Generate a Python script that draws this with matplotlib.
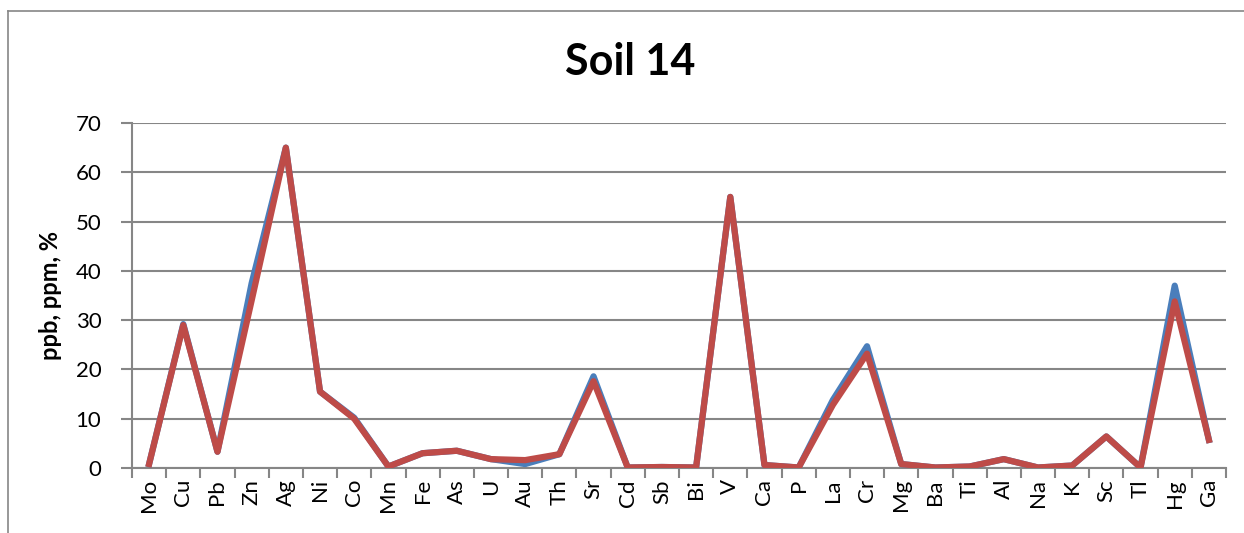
import numpy as np
import matplotlib.pyplot as plt
from matplotlib.lines import Line2D

# elements in the order they appear on the x axis
elements = ['Mo', 'Cu', 'Pb', 'Zn', 'Ag', 'Ni', 'Co', 'Mn', 'Fe', 'As', 'U', 'Au',
            'Th', 'Sr', 'Cd', 'Sb', 'Bi', 'V', 'Ca', 'P', 'La', 'Cr', 'Mg', 'Ba',
            'Ti', 'Al', 'Na', 'K', 'Sc', 'Tl', 'Hg', 'Ga']

# two runs of the same sample (blue drawn under red)
run_blue = [0.8, 29.2, 3.3, 37.5, 65.0, 15.5, 10.2, 0.3, 3.0, 3.5, 1.8, 0.8,
            2.8, 18.6, 0.1, 0.2, 0.1, 55.0, 0.6, 0.1, 13.8, 24.7, 0.8, 0.1,
            0.3, 1.8, 0.1, 0.5, 6.4, 0.1, 37.0, 5.7]
run_red = [0.8, 29.0, 3.3, 34.0, 65.0, 15.5, 10.0, 0.3, 3.0, 3.5, 1.8, 1.6,
           2.8, 17.6, 0.1, 0.2, 0.1, 55.0, 0.6, 0.1, 12.8, 23.2, 0.8, 0.1,
           0.3, 1.8, 0.1, 0.5, 6.4, 0.1, 33.8, 5.7]

plt.rcParams['font.family'] = ['Lato', 'DejaVu Sans']

fig = plt.figure(figsize=(12.44, 5.33), dpi=100)
ax = fig.add_axes([132 / 1244, 1 - 468 / 533, 1094 / 1244, 345 / 533])

grey = '#868686'
x = np.arange(len(elements))
ax.plot(x, run_blue, color='#4A7EBB', lw=4.5, solid_joinstyle='round', zorder=3)
ax.plot(x, run_red, color='#BE4B48', lw=4.5, solid_joinstyle='round', zorder=4)

ax.set_xlim(-0.5, len(elements) - 0.5)
ax.set_ylim(0, 70)
ax.set_yticks(np.arange(0, 71, 10))
ax.set_xticks(x)
ax.set_xticklabels(elements, rotation=90, fontsize=16)
ax.set_xticks(np.arange(-0.5, len(elements), 1), minor=True)
ax.tick_params(axis='x', which='major', length=0, pad=8)
ax.tick_params(axis='x', which='minor', length=7, width=1.5, color=grey)
ax.tick_params(axis='y', length=8, width=1.5, color=grey, labelsize=16, pad=14)

ax.grid(axis='y', color=grey, lw=1.5)
ax.set_axisbelow(True)
for s in ['top', 'right']:
    ax.spines[s].set_visible(False)
for s in ['left', 'bottom']:
    ax.spines[s].set_color(grey)
    ax.spines[s].set_linewidth(1.5)

ax.set_ylabel('ppb, ppm, %', fontsize=17, fontweight='bold', labelpad=10)
fig.text(630 / 1244, 1 - 62 / 533, 'Soil 14', fontsize=31, fontweight='bold',
         ha='center', va='center')

# outer chart frame (cut off at right and bottom)
fig.add_artist(Line2D([8 / 1244, 8 / 1244], [0, 1 - 11 / 533], transform=fig.transFigure,
                      color=grey, lw=1.2))
fig.add_artist(Line2D([8 / 1244, 1], [1 - 11 / 533, 1 - 11 / 533], transform=fig.transFigure,
                      color=grey, lw=1.2))

fig.savefig('out.png', dpi=100)
